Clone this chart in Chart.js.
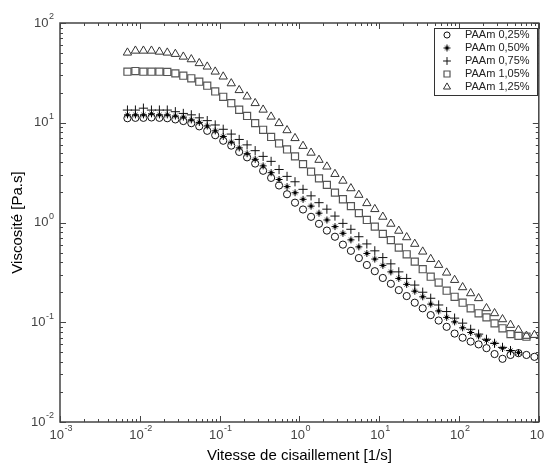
<!DOCTYPE html>
<html lang="fr">
<head>
<meta charset="utf-8">
<title>Viscosité PAAm</title>
<script src="https://cdn.jsdelivr.net/npm/chart.js@4.4.1/dist/chart.umd.min.js"></script>
<style>
  html, body { margin: 0; padding: 0; background: #fff; }
  #wrap { width: 545px; height: 466px; }
</style>
</head>
<body>
<div id="wrap"><canvas id="viscoChart" width="545" height="466"></canvas></div>
<script>
// shear rate [1/s]
const shearRates = [
  0.00700, 0.00881, 0.0111, 0.0140, 0.0176, 0.0221, 0.0279, 0.0351, 0.0442, 0.0556,
  0.0700, 0.0881, 0.111, 0.140, 0.176, 0.221, 0.279, 0.351, 0.442, 0.556,
  0.700, 0.881, 1.11, 1.40, 1.76, 2.21, 2.79, 3.51, 4.42, 5.56,
  7.00, 8.81, 11.1, 14.0, 17.6, 22.1, 27.9, 35.1, 44.2, 55.6,
  70.0, 88.1, 111, 140, 176, 221, 279, 351, 442, 556,
  700, 881
];

// viscosity [Pa.s]
const paam025 = [
  11.1, 11.2, 11.2, 11.3, 11.2, 11.1, 10.8, 10.4, 9.9, 9.2,
  8.3, 7.5, 6.6, 5.9, 5.1, 4.5, 3.9, 3.3, 2.8, 2.35,
  1.92, 1.58, 1.35, 1.14, 0.97, 0.83, 0.72, 0.6, 0.52, 0.44,
  0.375, 0.325, 0.278, 0.243, 0.21, 0.183, 0.157, 0.138, 0.118, 0.104,
  0.09, 0.077, 0.07, 0.064, 0.06, 0.055, 0.048, 0.043, 0.047, 0.049,
  0.047, 0.045
];
const paam050 = [
  12.0, 12.0, 12.0, 12.3, 12.0, 12.0, 11.7, 11.4, 10.7, 10.1,
  9.3, 8.3, 7.3, 6.4, 5.6, 4.9, 4.3, 3.7, 3.16, 2.7,
  2.29, 1.99, 1.71, 1.46, 1.24, 1.06, 0.91, 0.78, 0.67, 0.57,
  0.49, 0.43, 0.372, 0.32, 0.275, 0.24, 0.205, 0.18, 0.152, 0.13,
  0.112, 0.101, 0.088, 0.079, 0.073, 0.066, 0.0615, 0.055, 0.052, 0.0496
];
const paam075 = [
  13.4, 13.4, 14.0, 13.4, 13.4, 13.4, 12.9, 12.4, 12.0, 11.2,
  10.5, 9.5, 8.6, 7.7, 6.8, 6.0, 5.25, 4.6, 4.1, 3.4,
  2.9, 2.56, 2.15, 1.85, 1.58, 1.36, 1.16, 0.98, 0.855, 0.72,
  0.61, 0.52, 0.445, 0.385, 0.32, 0.275, 0.236, 0.2, 0.174, 0.149,
  0.128, 0.11, 0.098, 0.085, 0.076, 0.0675, 0.0615, 0.056, 0.052
];
const paam105 = [
  32.5, 33, 32.5, 32.5, 32.5, 32.3, 31.3, 29.6, 27.9, 25.8,
  23.5, 20.6, 18.2, 15.7, 13.5, 11.7, 9.9, 8.5, 7.2, 6.2,
  5.4, 4.6, 3.85, 3.23, 2.77, 2.38, 1.99, 1.71, 1.46, 1.24,
  1.06, 0.91, 0.77, 0.665, 0.56, 0.48, 0.405, 0.34, 0.286, 0.25,
  0.207, 0.18, 0.157, 0.138, 0.123, 0.112, 0.0975, 0.087, 0.076, 0.073,
  0.0716
];
const paam125 = [
  50.4, 52.7, 52.7, 52.7, 51.5, 50.4, 48.9, 45.9, 43.2, 39.5,
  36.5, 32.5, 29, 24.8, 21.2, 18.3, 15.7, 13.5, 11.5, 9.9,
  8.4, 7.0, 5.85, 5.0, 4.24, 3.63, 3.06, 2.62, 2.2, 1.89,
  1.56, 1.36, 1.14, 0.97, 0.825, 0.71, 0.61, 0.51, 0.43, 0.375,
  0.314, 0.265, 0.224, 0.195, 0.174, 0.138, 0.123, 0.107, 0.094, 0.0836,
  0.073, 0.0745
];

const seriesLabels = ['PAAm 0,25%', 'PAAm 0,50%', 'PAAm 0,75%', 'PAAm 1,05%', 'PAAm 1,25%'];
const xTickExponents = [-3, -2, -1, 0, 1, 2, 3];
const yTickExponents = [-2, -1, 0, 1, 2];

const FONT = '"Liberation Sans", Arial, sans-serif';

function toPoints(values) {
  return values.map((y, i) => ({ x: shearRates[i], y }));
}

// small asterisk with a filled centre, like the original "*" marker
function makeStar() {
  const c = document.createElement('canvas');
  c.width = 9; c.height = 9;
  const g = c.getContext('2d');
  g.strokeStyle = '#000';
  g.fillStyle = '#000';
  g.lineWidth = 1;
  g.beginPath();
  g.moveTo(4.5, 1); g.lineTo(4.5, 8);
  g.moveTo(1, 4.5); g.lineTo(8, 4.5);
  g.moveTo(2.5, 2.5); g.lineTo(6.5, 6.5);
  g.moveTo(6.5, 2.5); g.lineTo(2.5, 6.5);
  g.stroke();
  g.beginPath();
  g.arc(4.5, 4.5, 1.7, 0, Math.PI * 2);
  g.fill();
  return c;
}

const markers = [
  { pointStyle: 'circle', radius: 3.6, color: '#111', width: 1 },
  { pointStyle: makeStar(), radius: 4, color: '#000', width: 1 },
  { pointStyle: 'cross', radius: 4.6, color: '#111', width: 1 },
  { pointStyle: 'rect', radius: 5, color: '#555', width: 1.2 },
  { pointStyle: 'triangle', radius: 4.8, color: '#333', width: 1 },
];

function drawPower(ctx, exp, x, y, align) {
  ctx.font = '13px ' + FONT;
  const wb = ctx.measureText('10').width;
  ctx.font = '9px ' + FONT;
  const ws = ctx.measureText(String(exp)).width;
  const total = wb + ws + 0.5;
  const x0 = align === 'right' ? x - total : x - total / 2;
  ctx.textAlign = 'left';
  ctx.textBaseline = 'middle';
  ctx.font = '13px ' + FONT;
  ctx.fillText('10', x0, y);
  ctx.font = '9px ' + FONT;
  ctx.fillText(String(exp), x0 + wb + 0.5, y - 6);
}

const axesPlugin = {
  id: 'axesPlugin',
  afterDatasetsDraw(chart) {
    const { ctx, chartArea: a, scales } = chart;
    const xs = scales.x, ys = scales.y;
    ctx.save();

    // frame
    ctx.strokeStyle = '#444';
    ctx.lineWidth = 1.5;
    ctx.strokeRect(a.left, a.top, a.right - a.left, a.bottom - a.top);

    // inward ticks on all four sides
    ctx.lineWidth = 1;
    ctx.beginPath();
    xTickExponents.forEach((e, i) => {
      for (let m = 1; m <= 9; m++) {
        if (i === xTickExponents.length - 1 && m > 1) break;
        const px = Math.round(xs.getPixelForValue(m * Math.pow(10, e))) + 0.5;
        const len = m === 1 ? 6 : 3;
        ctx.moveTo(px, a.bottom); ctx.lineTo(px, a.bottom - len);
        ctx.moveTo(px, a.top); ctx.lineTo(px, a.top + len);
      }
    });
    yTickExponents.forEach((e, i) => {
      for (let m = 1; m <= 9; m++) {
        if (i === yTickExponents.length - 1 && m > 1) break;
        const py = Math.round(ys.getPixelForValue(m * Math.pow(10, e))) + 0.5;
        const len = m === 1 ? 6 : 3;
        ctx.moveTo(a.left, py); ctx.lineTo(a.left + len, py);
        ctx.moveTo(a.right, py); ctx.lineTo(a.right - len, py);
      }
    });
    ctx.stroke();

    // tick labels
    ctx.fillStyle = '#444';
    xTickExponents.forEach((e) => {
      drawPower(ctx, e, xs.getPixelForValue(Math.pow(10, e)) + 1, a.bottom + 13, 'center');
    });
    yTickExponents.forEach((e) => {
      drawPower(ctx, e, a.left - 6, ys.getPixelForValue(Math.pow(10, e)), 'right');
    });

    // axis titles
    ctx.fillStyle = '#000';
    ctx.font = '15px ' + FONT;
    ctx.textAlign = 'center';
    ctx.textBaseline = 'middle';
    ctx.fillText('Vitesse de cisaillement [1/s]', (a.left + a.right) / 2, 456);
    ctx.save();
    ctx.translate(18, (a.top + a.bottom) / 2);
    ctx.rotate(-Math.PI / 2);
    ctx.fillText('Viscosité [Pa.s]', 0, 0);
    ctx.restore();

    // legend box
    const bx = 434, by = 28, bw = 103, bh = 67;
    ctx.fillStyle = '#fff';
    ctx.fillRect(bx, by, bw, bh);
    ctx.strokeStyle = '#333';
    ctx.lineWidth = 1;
    ctx.strokeRect(bx + 0.5, by + 0.5, bw, bh);
    seriesLabels.forEach((label, i) => {
      const y = by + 7 + i * 13;
      const mk = markers[i];
      ctx.strokeStyle = mk.color;
      ctx.fillStyle = 'rgba(0,0,0,0)';
      ctx.lineWidth = mk.width;
      Chart.helpers.drawPoint(ctx, { pointStyle: mk.pointStyle, radius: mk.radius * 0.85, rotation: 0, borderWidth: mk.width }, 447, y);
      ctx.fillStyle = '#222';
      ctx.font = '11px ' + FONT;
      ctx.textAlign = 'left';
      ctx.textBaseline = 'middle';
      ctx.fillText(label, 465, y);
    });

    ctx.restore();
  }
};

const seriesData = [paam025, paam050, paam075, paam105, paam125];

new Chart(document.getElementById('viscoChart'), {
  type: 'scatter',
  data: {
    datasets: seriesData.map((vals, i) => ({
      label: seriesLabels[i],
      data: toPoints(vals),
      pointStyle: markers[i].pointStyle,
      pointRadius: markers[i].radius,
      pointHoverRadius: markers[i].radius,
      pointBorderWidth: markers[i].width,
      borderColor: markers[i].color,
      backgroundColor: 'rgba(0,0,0,0)',
      showLine: false,
    })),
  },
  options: {
    responsive: false,
    animation: false,
    devicePixelRatio: 1,
    layout: { padding: { left: 60, right: 3, top: 23, bottom: 44 } },
    plugins: { legend: { display: false }, tooltip: { enabled: false } },
    scales: {
      x: { type: 'logarithmic', min: 0.001, max: 1000, display: false },
      y: { type: 'logarithmic', min: 0.01, max: 100, display: false },
    },
  },
  plugins: [axesPlugin],
});
</script>
</body>
</html>
